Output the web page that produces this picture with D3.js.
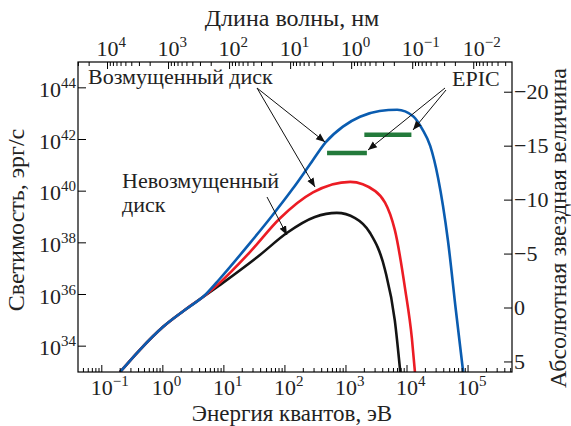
<!DOCTYPE html>
<html>
<head>
  <script src="https://cdnjs.cloudflare.com/ajax/libs/d3/7.8.5/d3.min.js"></script>
  <style>
    body { margin: 0; background: #fff; }
  </style>
</head>
<body>
<div id="chart"></div>
<script>
// log10(E, eV) and log10(L, erg/s)
var blueLogE  = [-0.70, -0.38, 0.00, 0.36, 0.70, 0.93, 1.43, 1.79, 2.13, 2.40, 2.67, 2.95, 3.23, 3.55, 3.84, 4.10, 4.25, 4.38, 4.51, 4.67, 4.80, 4.92];
var blueLogL  = [33.00, 33.85, 34.74, 35.40, 36.00, 36.60, 38.00, 39.05, 40.10, 41.00, 41.90, 42.50, 42.88, 43.10, 43.15, 42.90, 42.40, 41.75, 40.50, 38.10, 35.40, 33.00];

var redLogE   = [-0.70, -0.38, 0.00, 0.36, 0.70, 0.93, 1.43, 1.92, 2.46, 3.07, 3.48, 3.80, 3.97, 4.08, 4.13];
var redLogL   = [33.00, 33.85, 34.74, 35.40, 35.98, 36.45, 37.65, 38.95, 39.95, 40.36, 40.00, 38.50, 36.20, 34.30, 33.00];

var blackLogE = [-0.70, -0.38, 0.00, 0.36, 0.93, 1.59, 2.03, 2.49, 2.85, 3.15, 3.39, 3.64, 3.80, 3.89];
var blackLogL = [33.00, 33.85, 34.74, 35.40, 36.36, 37.53, 38.38, 39.00, 39.16, 38.96, 38.40, 36.95, 35.00, 33.00];

// EPIC bands (eV) and their level (erg/s)
var epicE0 = [490, 2000];
var epicE1 = [2200, 11800];
var epicLogL = [41.48, 42.18];

// ticks
var energyLabels = [-1, 0, 1, 2, 3, 4, 5];
var lambdaLabels = [4, 3, 2, 1, 0, -1, -2];
var lumLabels = [34, 36, 38, 40, 42, 44];
var magTicks = [-20, -15, -10, -5, 0, 5];

var width = 571, height = 426;
var L = 78, R = 512, T = 62, B = 372;
var HC = 1239.84; // eV * nm
var SERIF = 'Liberation Serif';

var svg = d3.select('#chart').append('svg')
    .attr('width', width)
    .attr('height', height);

//----------------------------------------
// Scales
var x = d3.scaleLog().domain([Math.pow(10, -1.39), Math.pow(10, 5.72)]).range([L, R]);
var y = d3.scaleLog().domain([1e33, 1e45]).range([B, T]);
var xl = d3.scaleLog().domain([HC / x.domain()[0], HC / x.domain()[1]]).range([L, R]);
var ym = d3.scaleLinear().domain([5.93, -22.8]).range([B, T]);

//----------------------------------------
// Curves
svg.append('clipPath').attr('id', 'clip')
    .append('rect').attr('x', L).attr('y', T).attr('width', R - L).attr('height', B - T);

var line = d3.line()
    .x(function(d) { return x(Math.pow(10, d[0])); })
    .y(function(d) { return y(Math.pow(10, d[1])); })
    .curve(d3.curveMonotoneX);

var curves = [
    { e: blackLogE, l: blackLogL, c: '#141414' },
    { e: redLogE, l: redLogL, c: '#ec1c24' },
    { e: blueLogE, l: blueLogL, c: '#0a5cb0' }
];
curves.forEach(function(s) {
    svg.append('path')
        .attr('clip-path', 'url(#clip)')
        .attr('d', line(d3.zip(s.e, s.l)))
        .attr('fill', 'none')
        .attr('stroke', s.c)
        .attr('stroke-width', 2.6);
});

// EPIC bars
epicE0.forEach(function(e0, i) {
    svg.append('line')
        .attr('x1', x(e0)).attr('x2', x(epicE1[i]))
        .attr('y1', y(Math.pow(10, epicLogL[i]))).attr('y2', y(Math.pow(10, epicLogL[i])))
        .attr('stroke', '#237a3b')
        .attr('stroke-width', 4.5);
});

//----------------------------------------
// Frame and ticks
svg.append('rect')
    .attr('x', L).attr('y', T).attr('width', R - L).attr('height', B - T)
    .attr('fill', 'none').attr('stroke', '#000').attr('stroke-width', 1.2);

function logTicks(lo, hi) {
    var out = [];
    for (var k = lo; k <= hi; k++) {
        for (var m = 1; m < 10; m++) out.push({ v: m * Math.pow(10, k), major: m === 1 });
    }
    return out;
}

// bottom
logTicks(-2, 5).filter(function(t) { return t.v >= x.domain()[0] && t.v <= x.domain()[1]; })
    .forEach(function(t) {
        svg.append('line')
            .attr('x1', x(t.v)).attr('x2', x(t.v))
            .attr('y1', B).attr('y2', B - (t.major ? 7 : 4))
            .attr('stroke', '#000').attr('stroke-width', 1);
    });
// top
logTicks(-3, 4).filter(function(t) { return t.v <= xl.domain()[0] && t.v >= xl.domain()[1]; })
    .forEach(function(t) {
        svg.append('line')
            .attr('x1', xl(t.v)).attr('x2', xl(t.v))
            .attr('y1', T).attr('y2', T + (t.major ? 7 : 4))
            .attr('stroke', '#000').attr('stroke-width', 1);
    });
// left
lumLabels.forEach(function(p) {
    svg.append('line')
        .attr('x1', L).attr('x2', L + 8)
        .attr('y1', y(Math.pow(10, p))).attr('y2', y(Math.pow(10, p)))
        .attr('stroke', '#000').attr('stroke-width', 1);
});
// right
magTicks.forEach(function(m) {
    svg.append('line')
        .attr('x1', R).attr('x2', R - 8)
        .attr('y1', ym(m)).attr('y2', ym(m))
        .attr('stroke', '#000').attr('stroke-width', 1);
});

//----------------------------------------
// Text helpers
var FS = 22, SUP = 15, TFS = 24;

function label(xpos, ypos, str, size, anchor) {
    return svg.append('text')
        .attr('x', xpos).attr('y', ypos)
        .attr('font-size', size)
        .attr('text-anchor', anchor || 'start')
        .attr('fill', '#222')
        .style('font-family', SERIF)
        .text(str);
}

function powLabel(xpos, ypos, p, anchor) {
    var t = label(xpos, ypos, null, FS, anchor);
    t.append('tspan').text('10');
    t.append('tspan').attr('font-size', SUP).attr('dy', -9)
        .text(p < 0 ? '\u2212' + (-p) : p);
    return t;
}

//----------------------------------------
// Tick labels
energyLabels.forEach(function(p) {
    powLabel(x(Math.pow(10, p)) - FS / 2, 395, p);
});
lambdaLabels.forEach(function(p) {
    powLabel(xl(Math.pow(10, p)) - FS / 2, 56, p);
});
lumLabels.forEach(function(p) {
    powLabel(76, y(Math.pow(10, p)) + 9, p, 'end');
});
magTicks.forEach(function(m) {
    label(514, ym(m) + 7, m < 0 ? '\u2212' + (-m) : m, FS);
});

//----------------------------------------
// Axis titles
label(292, 26, 'Длина волны, нм', TFS, 'middle');
label(292, 421, 'Энергия квантов, эВ', 23, 'middle');
label(0, 0, 'Светимость, эрг/с', TFS, 'middle')
    .attr('transform', 'translate(24,220) rotate(-90)');
label(0, 0, 'Абсолютная звездная величина', TFS, 'middle')
    .attr('transform', 'translate(566,228) rotate(-90)');

//----------------------------------------
// Annotations
var defs = svg.append('defs');
defs.append('marker').attr('id', 'arr')
    .attr('viewBox', '0 0 10 10').attr('refX', 10).attr('refY', 5)
    .attr('markerWidth', 9).attr('markerHeight', 9).attr('markerUnits', 'userSpaceOnUse')
    .attr('orient', 'auto')
    .append('path').attr('d', 'M0,1 L10,5 L0,9 Z').attr('fill', '#111');

function arrow(x1, y1, x2, y2) {
    svg.append('line')
        .attr('x1', x1).attr('y1', y1).attr('x2', x2).attr('y2', y2)
        .attr('stroke', '#111').attr('stroke-width', 1)
        .attr('marker-end', 'url(#arr)');
}

label(88, 84, 'Возмущенный диск', FS);
arrow(257, 88, 325, 142);
arrow(257, 88, 315, 187);

label(122, 188, 'Невозмущенный', FS);
label(122, 212, 'диск', FS);
arrow(267, 197, 287, 235);

label(452, 86, 'EPIC', FS);
arrow(445, 88, 368, 150);
arrow(446, 90, 413, 130);
</script>
</body>
</html>
